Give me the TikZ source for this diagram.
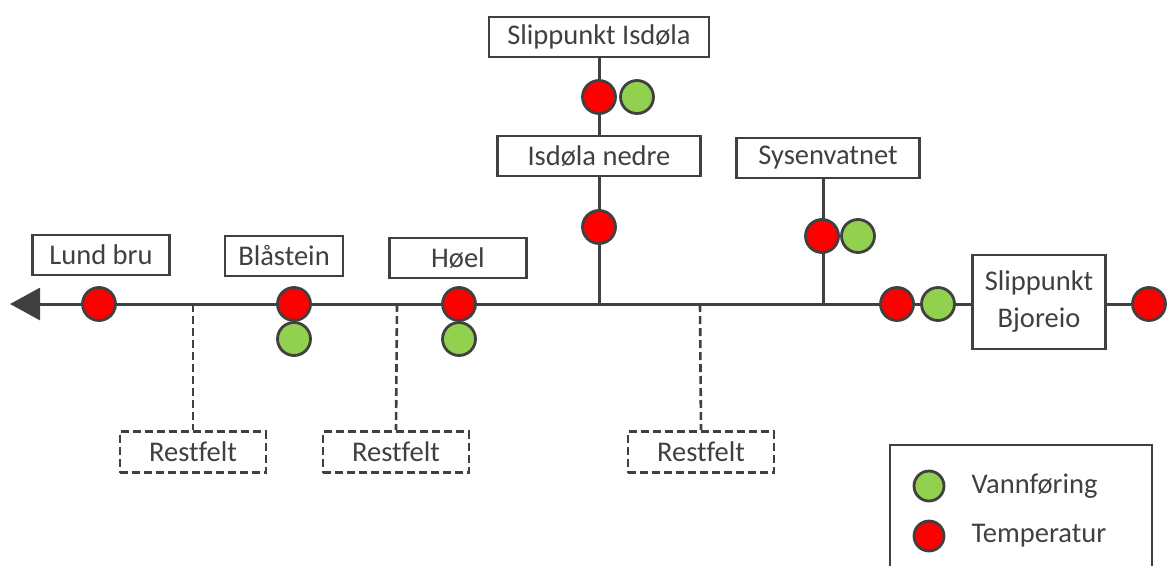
\documentclass[tikz,border=0pt]{standalone}
\usepackage{fontspec}
\setmainfont{Carlito}[Ligatures={NoCommon}]
\usetikzlibrary{arrows.meta}
\definecolor{ln}{HTML}{404040}
\definecolor{gr}{HTML}{92D050}
\definecolor{rd}{HTML}{FF0000}
\begin{document}
\begin{tikzpicture}[x=1pt,y=-1pt,
  every node/.style={font=\fontsize{28.5}{32}\selectfont, text=ln},
  lbl/.style={draw=ln, line width=2.6pt, fill=white, inner sep=0pt, minimum height=40pt},
  rest/.style={draw=ln, line width=2.6pt, dash pattern=on 8pt off 4pt, fill=white, inner sep=0pt, minimum width=146pt, minimum height=41pt},
  line/.style={draw=ln, line width=3pt},
  dline/.style={draw=ln, line width=2.6pt, dash pattern=on 8pt off 4pt},
  tdot/.style={circle, draw=ln, line width=2.8pt, fill=rd, minimum size=33pt, inner sep=0pt},
  vdot/.style={circle, draw=ln, line width=2.8pt, fill=gr, minimum size=33pt, inner sep=0pt}]
\useasboundingbox (0,0) rectangle (1167,565);

% main line
\coordinate (tip) at (10,304);
\coordinate (jI) at (599,304);
\coordinate (jS) at (823,304);
\coordinate (dA) at (193,304);
\coordinate (dB) at (397,304);
\coordinate (dC) at (700,304);

\node[lbl, minimum width=133pt, minimum height=94pt, align=center] (bjo) at (1039,302) {Slippunkt\\[5pt]Bjoreio};
\node[tdot] (bjoT) at (1149,304) {};
\draw[line] (bjo.east |- bjoT) -- (bjoT);

\draw[line, -{Triangle[length=30pt,width=32pt]}] (bjo.west |- bjoT) -- (tip);

% restfelt
\node[rest] (rA) at (193,452) {Restfelt};
\node[rest] (rB) at (396,452) {Restfelt};
\node[rest] (rC) at (701,452) {Restfelt};
\draw[dline] (dA) -- (rA.north);
\draw[dline] (dB) -- (rB.north);
\draw[dline] (dC) -- (rC.north);

% branches
\node[lbl, minimum width=203pt] (isn) at (599,156) {Isdøla nedre};
\node[lbl, minimum width=220pt] (isl) at (599,37) {Slippunkt Isdøla};
\node[lbl, minimum width=183pt] (sys) at (828,158) {Sysenvatnet};
\draw[line] (isl.south) -- (isn.north);
\draw[line] (isn.south) -- (jI);
\draw[line] (sys.south -| jS) -- (jS);

\node[tdot] (islT) at (599,97) {};
\node[vdot] (islV) at (637,97) {};
\node[tdot] (isnT) at (599,227) {};
\node[tdot] (sysT) at (822,236) {};
\node[vdot] (sysV) at (858,236) {};

% stations on main line
\node[lbl, minimum width=137pt] (lund) at (101,255) {Lund bru};
\node[lbl, minimum width=118pt] (bla) at (284,256) {Blåstein};
\node[lbl, minimum width=137pt] (hoel) at (458,258) {Høel};
\node[tdot] (lundT) at (99,304) {};
\node[tdot] (blaT) at (294,304) {};
\node[vdot] (blaV) at (294,339) {};
\node[tdot] (hoelT) at (459,304) {};
\node[vdot] (hoelV) at (459,339) {};
\node[tdot] (bjT) at (897,304) {};
\node[vdot] (bjV) at (938,304) {};

% legend
\draw[draw=ln, line width=2.6pt] (890,570) -- (890,445) -- (1152,445) -- (1152,570);
\node[vdot, minimum size=30pt] (legV) at (929,486) {};
\node[tdot, minimum size=30pt] (legT) at (929,536) {};
\node[anchor=west] (legVt) at (968,486) {Vannføring};
\node[anchor=west] (legTt) at (968,536) {Temperatur};
\end{tikzpicture}
\end{document}
